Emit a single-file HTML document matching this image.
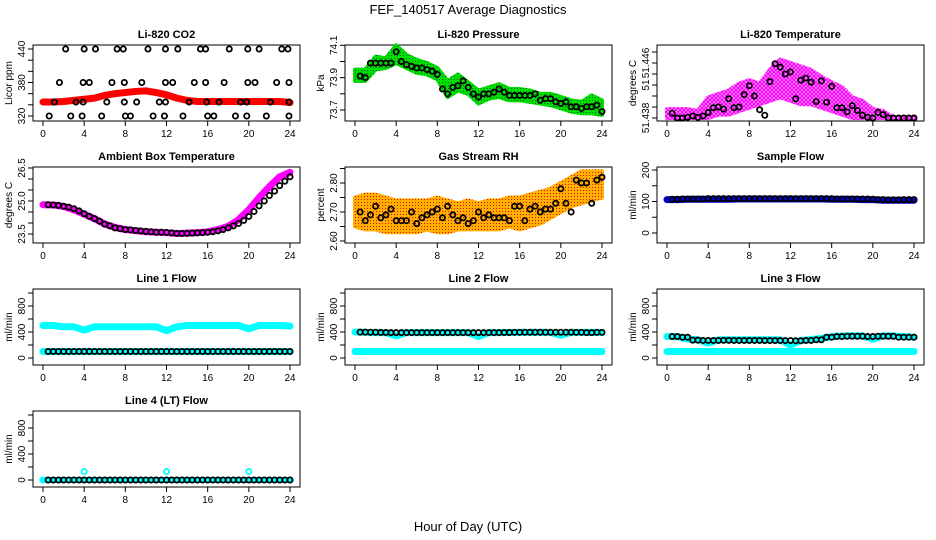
<!DOCTYPE html>
<html><head><meta charset="utf-8"><style>
html,body{margin:0;padding:0;background:#fff;}
svg{display:block;font-family:"Liberation Sans",Arial,sans-serif;}
</style></head><body>
<svg id="chart" width="936" height="540" viewBox="0 0 936 540" xmlns="http://www.w3.org/2000/svg">
<defs>
<pattern id="pGreen" width="3" height="3" patternUnits="userSpaceOnUse"><rect width="3" height="3" fill="#00e000"/><rect x="1" y="1" width="1" height="1" fill="#063"/></pattern>
<pattern id="pOrange" width="3" height="3" patternUnits="userSpaceOnUse"><rect width="3" height="3" fill="#ffb000"/><rect x="1" y="1" width="1" height="1" fill="#e01000"/></pattern>
<pattern id="pMag" width="4" height="4" patternUnits="userSpaceOnUse"><rect width="4" height="4" fill="#f9c6f9"/><circle cx="2" cy="2" r="1.5" fill="none" stroke="#f0f" stroke-width="1.3"/></pattern>
</defs>
<text x="468" y="14" font-size="13" text-anchor="middle">FEF_140517  Average Diagnostics</text>
<text x="468" y="531" font-size="13" text-anchor="middle">Hour of Day (UTC)</text>
<g id="panels"></g>
</svg>
<script>
// ---------- data ----------
const hourly = [0,1,2,3,4,5,6,7,8,9,10,11,12,13,14,15,16,17,18,19,20,21,22,23,24];
const halfHours = [0.5,1,1.5,2,2.5,3,3.5,4,4.5,5,5.5,6,6.5,7,7.5,8,8.5,9,9.5,10,10.5,11,11.5,12,12.5,13,13.5,14,14.5,15,15.5,16,16.5,17,17.5,18,18.5,19,19.5,20,20.5,21,21.5,22,22.5,23,23.5,24];

const co2Red = [345,345,346,348,350,352,357,360,362,364,365,362,358,352,348,346,346,346,346,346,346,346,346,346,344];
const co2BlackHours = [2.2,4.0,5.1,7.2,7.8,10.2,11.9,13.1,15.3,15.8,18.1,19.9,21.0,23.2,23.8, 1.6,3.9,4.5,6.7,7.9,9.6,11.9,12.6,14.7,15.8,17.6,19.9,20.6,22.7,23.9, 1.1,3.2,3.9,6.2,7.9,9.1,11.3,11.9,14.2,15.9,17.1,19.2,19.8,22.1,23.9, 0.6,2.7,3.8,5.7,8.0,8.5,10.7,11.8,13.6,16.0,16.6,18.7,19.8,21.7,23.9];
const co2BlackVals = [440,440,440,440,440,440,440,440,440,440,440,440,440,440,440, 380,380,380,380,380,380,380,380,380,380,380,380,380,380,380, 345,345,345,345,345,345,345,345,345,345,345,345,345,345,345, 320,320,320,320,320,320,320,320,320,320,320,320,320,320,320];

const presLo = [73.88,73.88,73.95,73.96,73.99,73.96,73.93,73.92,73.89,73.78,73.82,73.80,73.74,73.77,73.78,73.76,73.76,73.75,73.74,73.73,73.71,73.69,73.68,73.68,73.67];
const presHi = [73.95,73.95,74.03,74.02,74.10,74.04,74.01,73.99,73.96,73.88,73.92,73.87,73.82,73.84,73.86,73.83,73.83,73.82,73.80,73.80,73.78,73.76,73.75,73.79,73.76];
const presBlack = [73.91,73.90,73.99,73.99,73.99,73.99,73.99,74.06,74.0,73.98,73.97,73.96,73.96,73.95,73.94,73.92,73.83,73.80,73.84,73.85,73.88,73.84,73.80,73.78,73.80,73.80,73.81,73.83,73.81,73.79,73.79,73.79,73.79,73.79,73.80,73.76,73.77,73.77,73.75,73.74,73.75,73.72,73.72,73.71,73.72,73.72,73.73,73.69];

const tempLo = [51.438,51.438,51.438,51.438,51.438,51.4385,51.4385,51.439,51.4395,51.440,51.4405,51.441,51.4405,51.440,51.440,51.4395,51.439,51.4385,51.438,51.438,51.438,51.438,51.438,51.438,51.438];
const tempHi = [51.4393,51.4393,51.4393,51.4390,51.4410,51.4415,51.4420,51.4430,51.4435,51.4430,51.4450,51.4465,51.4460,51.4455,51.4450,51.4440,51.4432,51.4425,51.4410,51.4405,51.4393,51.4390,51.4381,51.4381,51.4381];
const tempBlack = [51.4387,51.4380,51.4380,51.4381,51.4383,51.4381,51.4383,51.4388,51.4395,51.4396,51.4393,51.4408,51.4395,51.4396,51.4414,51.4427,51.4412,51.4392,51.4384,51.4433,51.4459,51.4454,51.4444,51.4447,51.4408,51.4435,51.4438,51.4432,51.4404,51.4434,51.4403,51.4426,51.4395,51.4395,51.4389,51.4398,51.4391,51.4384,51.4381,51.4380,51.4388,51.4385,51.4380,51.4380,51.4380,51.4380,51.4380,51.4380];

const ambMag = [24.83,24.82,24.75,24.6,24.4,24.2,23.95,23.8,23.7,23.65,23.6,23.58,23.56,23.52,23.54,23.56,23.6,23.7,23.85,24.15,24.6,25.15,25.65,26.1,26.3];
const ambBlack = [24.83,24.82,24.8,24.76,24.72,24.65,24.55,24.42,24.3,24.2,24.08,23.95,23.87,23.78,23.74,23.7,23.69,23.66,23.64,23.62,23.6,23.58,23.58,23.57,23.55,23.53,23.52,23.53,23.54,23.55,23.56,23.58,23.6,23.64,23.7,23.78,23.87,23.98,24.12,24.3,24.52,24.78,25.0,25.25,25.45,25.7,25.9,26.1];

const rhLo = [2.65,2.64,2.64,2.63,2.63,2.63,2.63,2.64,2.63,2.63,2.64,2.64,2.64,2.64,2.64,2.65,2.64,2.65,2.66,2.68,2.70,2.72,2.73,2.74,2.75];
const rhHi = [2.75,2.76,2.76,2.75,2.74,2.74,2.74,2.74,2.75,2.74,2.73,2.74,2.73,2.74,2.74,2.75,2.75,2.76,2.77,2.78,2.80,2.82,2.84,2.84,2.84];
const rhBlack = [2.70,2.67,2.69,2.72,2.68,2.69,2.71,2.67,2.67,2.67,2.70,2.66,2.68,2.69,2.70,2.71,2.68,2.72,2.69,2.67,2.68,2.66,2.67,2.70,2.68,2.69,2.68,2.68,2.68,2.67,2.72,2.72,2.67,2.71,2.72,2.70,2.71,2.71,2.73,2.78,2.73,2.70,2.81,2.80,2.80,2.73,2.81,2.82];

const sampleBlue = [106,106,107,107,107,107,107,108,108,108,108,108,108,108,108,108,107,107,107,106,106,104,104,104,104];
const sampleBlack = [107,107,108,108,108,108,108,109,109,109,109,109,109,109,109,109,109,109,109,109,109,109,109,109,109,109,109,109,109,109,109,109,108,108,108,108,108,108,108,107,106,106,105,105,105,106,106,106];

const line1CyanHi = [500,500,480,480,430,480,480,480,480,480,480,480,420,480,500,500,500,500,500,500,450,500,500,500,490];
const line1CyanLo = [100,100,100,100,100,100,100,100,100,100,100,100,100,100,100,100,100,100,100,100,100,100,100,100,100];
const line1Black = [100,100,100,100,100,100,100,100,100,100,100,100,100,100,100,100,100,100,100,100,100,100,100,100,100];

const line2CyanHi = [400,395,390,390,340,390,390,390,390,390,390,390,330,390,390,395,395,395,395,395,350,395,395,395,390];
const line2CyanLo = [100,100,100,100,100,100,100,100,100,100,100,100,100,100,100,100,100,100,100,100,100,100,100,100,100];
const line2Black = [400,398,396,392,390,390,390,390,390,390,390,390,390,390,390,392,395,396,396,396,396,396,395,390,395];

const line3CyanHi = [330,330,290,280,230,280,280,280,280,280,280,280,200,270,285,300,330,340,340,340,290,340,340,330,320];
const line3CyanLo = [100,100,100,100,100,100,100,100,100,100,100,100,100,100,100,100,100,100,100,100,100,100,100,100,100];
const line3Black = [330,330,320,275,270,270,272,270,270,270,268,268,268,265,270,280,320,330,335,335,330,335,335,320,320];

const line4Cyan = [0,0,0,0,130,0,0,0,0,0,0,0,130,0,0,0,0,0,0,0,130,0,0,0,0];
const line4Black = [0,0,0,0,0,0,0,0,0,0,0,0,0,0,0,0,0,0,0,0,0,0,0,0,0];

const co2Ticks = [320,340,360,380,400,420,440];
const co2Labels = ["320","","","380","","","440"];
const presTicks = [73.7,73.8,73.9,74.0,74.1];
const presLabels = ["73.7","","73.9","","74.1"];
const tempTicks = [51.438,51.4396,51.4412,51.4428,51.4444,51.446,51.4476];
const tempLabels = ["51.438","","","51","","51.446",""];
const ambTicks = [23.5,24.0,24.5,25.0,25.5,26.0,26.5];
const ambLabels = ["23.5","","","25.0","","","26.5"];
const rhTicks = [2.60,2.65,2.70,2.75,2.80,2.85];
const rhLabels = ["2.60","","2.70","","2.80",""];
const sampleTicks = [0,50,100,150,200];
const sampleLabels = ["0","","100","","200"];
const flowTicks = [0,200,400,600,800,1000];
const flowLabels = ["0","","400","","800",""];
const xTicks = [0,4,8,12,16,20,24];

// ---------- drawing ----------
const NS = "http://www.w3.org/2000/svg";
const root = document.getElementById('panels');
function mk(tag, attrs, parent) {
  const e = document.createElementNS(NS, tag);
  for (const k in attrs) e.setAttribute(k, attrs[k]);
  (parent || root).appendChild(e);
  return e;
}
function makePanel(col, row, title, ytitle, v1, p1, v2, p2, ticks, labels) {
  const L = 33 + 312 * col, T = 45 + 122 * row, W = 267, H = 76;
  const g = mk('g', {});
  
  
  const x = h => L + 10 + h * 247 / 24;
  const y = v => T + p1 + (v - v1) * (p2 - p1) / (v2 - v1);
  const frame = mk('rect', {x: L, y: T, width: W, height: H, fill: 'none', stroke: '#000', 'stroke-width': 1}, g);
  
  
  const tt = mk('text', {x: L + W / 2, y: T - 7, 'font-size': 11, 'font-weight': 'bold', 'text-anchor': 'middle'}, g);
  tt.textContent = title;
  
  
  const yt = mk('text', {x: 0, y: 0, 'font-size': 10, 'text-anchor': 'middle', transform: `translate(${L - 21},${T + H / 2}) rotate(-90)`}, g);
  yt.textContent = ytitle;
  
  
  ticks.forEach((v, i) => {
    const py = y(v);
    const tk = mk('line', {x1: L - 5, x2: L, y1: py, y2: py, stroke: '#000'}, g);
    
    
    if (labels[i]) {
      const lt = mk('text', {x: 0, y: 0, 'font-size': 10, 'text-anchor': 'middle', transform: `translate(${L - 8},${py}) rotate(-90)`}, g);
      lt.textContent = labels[i];
      
      
    }
  });
  xTicks.forEach(h => {
    const px = x(h);
    const tk = mk('line', {x1: px, x2: px, y1: T + H, y2: T + H + 5, stroke: '#000'}, g);
    
    
    const lt = mk('text', {x: px, y: T + H + 16, 'font-size': 10, 'text-anchor': 'middle'}, g);
    lt.textContent = String(h);
    
    
  });
  return {g, x, y};
}
function band(P, hs, lo, hi, fill, name) {
  let d = '';
  hs.forEach((h, i) => d += (i ? 'L' : 'M') + P.x(h) + ',' + P.y(hi[i]));
  for (let i = hs.length - 1; i >= 0; i--) d += 'L' + P.x(hs[i]) + ',' + P.y(lo[i]);
  const p = mk('path', {d: d + 'Z', fill: fill, stroke: fill, 'stroke-width': 4, 'stroke-linejoin': 'round'}, P.g);
  
  
}
function thick(P, hs, vals, color, w, name) {
  const pts = hs.map((h, i) => P.x(h) + ',' + P.y(vals[i])).join(' ');
  const p = mk('polyline', {points: pts, fill: 'none', stroke: color, 'stroke-width': w, 'stroke-linejoin': 'round', 'stroke-linecap': 'round'}, P.g);
  
  
}
function dots(P, hs, vals, color, name) {
  hs.forEach((h, i) => {
    const c = mk('circle', {cx: P.x(h), cy: P.y(vals[i]), r: 2.6, fill: 'none', stroke: color, 'stroke-width': 1.8}, P.g);
    
    
  });
}

// Row 1
let P = makePanel(0, 0, 'Li-820 CO2', 'Licor ppm', 440, 4, 320, 71, co2Ticks, co2Labels);
thick(P, hourly, co2Red, '#f00', 7, 'co2-red-series');
dots(P, co2BlackHours, co2BlackVals, '#000', 'co2-black-point');

P = makePanel(1, 0, 'Li-820 Pressure', 'kPa', 74.1, 0.3, 73.7, 65, presTicks, presLabels);
band(P, hourly, presLo, presHi, 'url(#pGreen)', 'pressure-green-band');
dots(P, halfHours, presBlack, '#000', 'pressure-black-point');

P = makePanel(2, 0, 'Li-820 Temperature', 'degrees C', 51.438, 73, 51.446, 18, tempTicks, tempLabels);
band(P, hourly, tempLo, tempHi, 'url(#pMag)', 'temperature-magenta-band');
dots(P, halfHours, tempBlack, '#000', 'temperature-black-point');

// Row 2
P = makePanel(0, 1, 'Ambient Box Temperature', 'degrees C', 23.5, 67, 26.5, 1, ambTicks, ambLabels);
thick(P, hourly, ambMag, '#f0f', 7, 'ambient-magenta-series');
dots(P, halfHours, ambBlack, '#000', 'ambient-black-point');

P = makePanel(1, 1, 'Gas Stream RH', 'percent', 2.80, 16, 2.60, 74, rhTicks, rhLabels);
band(P, hourly, rhLo, rhHi, 'url(#pOrange)', 'rh-orange-band');
dots(P, halfHours, rhBlack, '#000', 'rh-black-point');

P = makePanel(2, 1, 'Sample Flow', 'ml/min', 200, 3, 0, 66, sampleTicks, sampleLabels);
thick(P, hourly, sampleBlue, '#00c', 7, 'sample-blue-series');
dots(P, halfHours, sampleBlack, '#000', 'sample-black-point');

// Row 3
P = makePanel(0, 2, 'Line 1 Flow', 'ml/min', 0, 69, 800, 17, flowTicks, flowLabels);
thick(P, hourly, line1CyanHi, '#0ff', 7, 'line1-cyan-upper');
thick(P, hourly, line1CyanLo, '#0ff', 7, 'line1-cyan-lower');
dots(P, hourly.slice(1), line1Black.slice(1), '#000', 'line1-black-point');
dots(P, hourly.slice(1).map(h => h - 0.5), line1Black.slice(1), '#000', 'line1-black-point');

P = makePanel(1, 2, 'Line 2 Flow', 'ml/min', 0, 69, 800, 17, flowTicks, flowLabels);
thick(P, hourly, line2CyanHi, '#0ff', 7, 'line2-cyan-upper');
thick(P, hourly, line2CyanLo, '#0ff', 7, 'line2-cyan-lower');
dots(P, hourly.slice(1), line2Black.slice(1), '#000', 'line2-black-point');
dots(P, hourly.slice(1).map(h => h - 0.5), line2Black.slice(1), '#000', 'line2-black-point');

P = makePanel(2, 2, 'Line 3 Flow', 'ml/min', 0, 69, 800, 17, flowTicks, flowLabels);
thick(P, hourly, line3CyanHi, '#0ff', 7, 'line3-cyan-upper');
thick(P, hourly, line3CyanLo, '#0ff', 7, 'line3-cyan-lower');
dots(P, hourly.slice(1), line3Black.slice(1), '#000', 'line3-black-point');
dots(P, hourly.slice(1).map(h => h - 0.5), line3Black.slice(1), '#000', 'line3-black-point');

// Row 4
P = makePanel(0, 3, 'Line 4 (LT) Flow', 'ml/min', 0, 69, 800, 17, flowTicks, flowLabels);
dots(P, hourly, line4Cyan, '#0ff', 'line4-cyan-point');
thick(P, hourly, line4Black, '#0ff', 6, 'line4-cyan-base');
dots(P, hourly.slice(1), line4Black.slice(1), '#000', 'line4-black-point');
dots(P, hourly.slice(1).map(h => h - 0.5), line4Black.slice(1), '#000', 'line4-black-point');
</script>
</body></html>
